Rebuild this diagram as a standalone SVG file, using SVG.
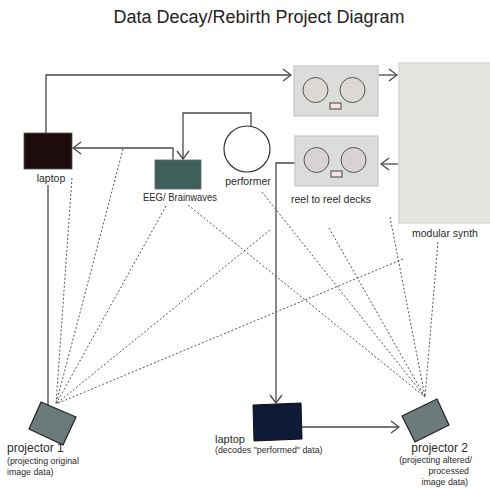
<svg xmlns="http://www.w3.org/2000/svg" width="490" height="488" viewBox="0 0 490 488">
<defs>
<style>
text{font-family:"Liberation Sans",Arial,sans-serif;fill:#2a2a2a}
.lbl{font-size:10.5px}
.sm{font-size:8.8px}
.conn{fill:none;stroke:#4a4a4a;stroke-width:1.3}
.dash{fill:none;stroke:#555;stroke-width:1;stroke-dasharray:2 2}
.deck{fill:#dcdddb;stroke:#c6c7c3;stroke-width:1.2}
.reel{stroke:#555;stroke-width:1}
.btn{fill:#f7e4e4;stroke:#444;stroke-width:1}
.proj{fill:#6c7a7a;stroke:#222;stroke-width:1.2}
</style>
<marker id="arr" viewBox="0 0 10 14" refX="9" refY="7" markerWidth="10" markerHeight="14" markerUnits="userSpaceOnUse" orient="auto">
<path d="M1,1 L9,7 L1,13" fill="none" stroke="#4a4a4a" stroke-width="1.3"/>
</marker>
</defs>
<rect width="490" height="488" fill="#fff"/>
<text x="259" y="23" text-anchor="middle" style="font-size:18px;fill:#222">Data Decay/Rebirth Project Diagram</text>

<g id="connectors">
<path class="conn" d="M46,133 V75 H291" marker-end="url(#arr)"/>
<path class="conn" d="M379,75 H397" marker-end="url(#arr)"/>
<path class="conn" d="M398,164 H381" marker-end="url(#arr)"/>
<path class="conn" d="M295,163 H276 V403" marker-end="url(#arr)"/>
<path class="conn" d="M302,427 H399" marker-end="url(#arr)"/>
<path class="conn" d="M173,160 V148 H73" marker-end="url(#arr)"/>
<path class="conn" d="M251,126 V113 H183 V159" marker-end="url(#arr)"/>
<path d="M48,185 V405" fill="none" stroke="#888" stroke-width="2"/>
<path class="dash" d="M72,178 L56,404"/>
<path class="dash" d="M123,149 L56,404"/>
<path class="dash" d="M166,206 L56,404"/>
<path class="dash" d="M270,230 L56,404"/>
<path class="dash" d="M403,259 L56,404"/>
<path class="dash" d="M262,192 L425,397"/>
<path class="dash" d="M188,205 L425,397"/>
<path class="dash" d="M329,228 L425,397"/>
<path class="dash" d="M390,217 L425,397"/>
<path class="dash" d="M438,242 L425,397"/>
</g>

<g id="reel-deck-top">
<rect class="deck" x="294" y="66" width="84" height="50"/>
<circle class="reel" cx="315.5" cy="90" r="12.5" fill="#dcd8d3"/>
<circle class="reel" cx="352.5" cy="90" r="12.5" fill="#dcd8d3"/>
<rect class="btn" x="330" y="103" width="11" height="6"/>
</g>

<g id="reel-deck-bottom">
<rect class="deck" x="295" y="136" width="83" height="50"/>
<circle class="reel" cx="316.5" cy="160" r="12.5" fill="#d8d2d2"/>
<circle class="reel" cx="353.5" cy="160" r="12.5" fill="#d8d2d2"/>
<rect class="btn" x="331" y="171" width="11" height="6"/>
<text class="lbl" x="331" y="203" text-anchor="middle">reel to reel decks</text>
</g>

<g id="modular-synth">
<rect x="399" y="63" width="95" height="160" fill="#e5e4e1" stroke="#d3d3cf" stroke-width="1.2"/>
<text class="lbl" x="445" y="237" text-anchor="middle">modular synth</text>
</g>

<g id="laptop-top">
<rect x="24" y="133" width="48" height="36" fill="#1f0c0e" stroke="#555" stroke-width="0.8"/>
<text class="lbl" x="51" y="182" text-anchor="middle">laptop</text>
</g>

<g id="eeg">
<rect x="155" y="160" width="46" height="29" fill="#3f5f5b" stroke="#666" stroke-width="0.8"/>
<text class="lbl" x="180" y="201" text-anchor="middle" textLength="74" lengthAdjust="spacingAndGlyphs">EEG/ Brainwaves</text>
</g>

<g id="performer">
<circle cx="247" cy="149" r="23" fill="#fff" stroke="#333" stroke-width="1.2"/>
<text class="lbl" x="248" y="185" text-anchor="middle">performer</text>
</g>

<g id="laptop-bottom">
<polygon points="253,405 301,403 302,439 254,441" fill="#0e1a36" stroke="#111" stroke-width="1"/>
<text x="215" y="443" style="font-size:11px">laptop</text>
<text class="sm" x="215" y="453">(decodes "performed" data)</text>
</g>

<g id="projector-1">
<polygon class="proj" points="41,402 76,417 63,445 29,429"/>
<text x="7" y="452" style="font-size:12px">projector 1</text>
<text class="sm" x="7" y="464">(projecting original</text>
<text class="sm" x="7" y="475">image data)</text>
</g>

<g id="projector-2">
<polygon class="proj" points="437,399 449,425 415,442 402,416"/>
<text x="468" y="452" text-anchor="end" style="font-size:12px">projector 2</text>
<text class="sm" x="472" y="463" text-anchor="end">(projecting altered/</text>
<text class="sm" x="469" y="474" text-anchor="end">processed</text>
<text class="sm" x="468" y="485" text-anchor="end">image data)</text>
</g>
</svg>
